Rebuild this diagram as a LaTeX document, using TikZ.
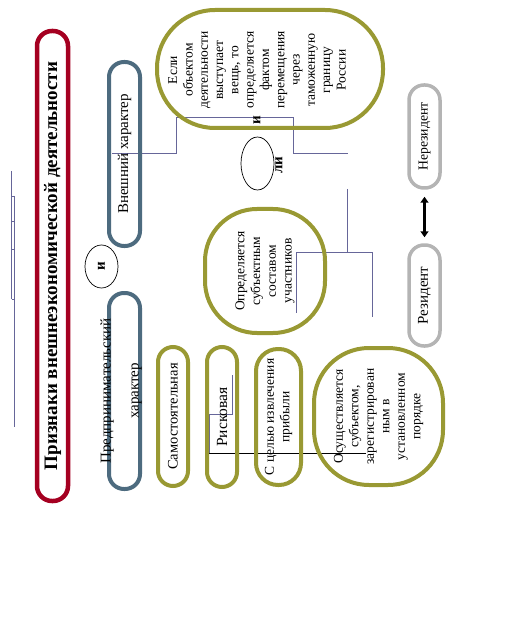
\documentclass[tikz,border=0pt]{standalone}
\usepackage{fontspec}
\setmainfont{Liberation Serif}
\usetikzlibrary{shapes.geometric,arrows.meta,backgrounds}
\definecolor{titred}{HTML}{A50021}
\definecolor{slate}{HTML}{4D6B7F}
\definecolor{olivec}{HTML}{999933}
\definecolor{lgrey}{HTML}{B4B4B4}
\definecolor{connc}{HTML}{666699}
\begin{document}
\begin{tikzpicture}[x=1pt,y=-1pt,
  pill/.style={draw, rotate=90, inner sep=0pt, align=center, line width=4pt},
  slatebox/.style={pill, draw=slate, font=\fontsize{15}{18}\selectfont},
  olivebox/.style={pill, draw=olivec, font=\fontsize{13.5}{15.5}\selectfont},
  greybox/.style={pill, draw=lgrey, line width=3.5pt, font=\fontsize{14}{17}\selectfont},
  smallov/.style={draw, ellipse, rotate=90, inner sep=0pt, line width=0.7pt},
  boldlbl/.style={rotate=90, inner sep=0pt, font=\bfseries\fontsize{15}{17}\selectfont},
  txt/.style={rotate=90, inner sep=0pt, align=center, font=\fontsize{13.5}{15.3}\selectfont},
  connl/.style={draw=connc, line width=0.8pt},
  dblarrow/.style={line width=3pt, {Triangle[length=6pt,width=8pt]}-{Triangle[length=6pt,width=8pt]}}
]
\path[use as bounding box] (0,0) rectangle (516,620);

% title
\node[pill, draw=titred, line width=4.5pt, minimum width=470pt, minimum height=31pt,
      rounded corners=15pt, font=\bfseries\fontsize{19}{22}\selectfont] (title) at (52.5,266)
      {Признаки внешнеэкономической деятельности};

% slate boxes
\node[slatebox, minimum width=184pt, minimum height=31pt, rounded corners=15pt] (vnesh) at (124.5,154) {Внешний характер};
\node[slatebox, minimum width=196pt, minimum height=31pt, rounded corners=15pt] (pred) at (124.5,391) {};
\node[txt, font=\fontsize{15}{18}\selectfont] (predtxt) at (121,391) {Предпринимательский\\[10pt]характер};
\node[smallov, minimum width=43pt, minimum height=33pt] (iov) at (101.5,266.5) {};
\node[boldlbl] (itxt) at (iov) {и};

% olive boxes
\node[olivebox, minimum width=139pt, minimum height=30pt, rounded corners=15pt, font=\fontsize{14.5}{17}\selectfont] (samo) at (173,416.5) {Самостоятельная};
\node[olivebox, minimum width=140pt, minimum height=30pt, rounded corners=15pt, font=\fontsize{15.5}{18}\selectfont] (risk) at (222,417) {Рисковая};
\node[olivebox, minimum width=136pt, minimum height=45pt, rounded corners=22pt] (celyu) at (278.5,417) {С целью извлечения\\прибыли};
\node[olivebox, minimum width=137pt, minimum height=129pt, rounded corners=55pt] (osush) at (378.5,416.5)
  {Осуществляется\\субъектом,\\зарегистрирован\\ным в\\установленном\\порядке};
\node[olivebox, minimum width=124pt, minimum height=120pt, rounded corners=52pt, font=\fontsize{13.5}{15.7}\selectfont] (opred) at (265,271)
  {Определяется\\субъектным\\составом\\участников};
\node[draw=olivec, line width=4pt, inner sep=0pt, minimum width=226pt, minimum height=118pt, rounded corners=58pt] (big) at (270,69) {};
\node[txt] (bigtxt) at (257,70) {Если\\объектом\\деятельности\\выступает\\вещь, то\\определяется\\фактом\\перемещения\\через\\таможенную\\границу\\России};

% or
\node[smallov, minimum width=53pt, minimum height=33pt] (liov) at (257.5,163.5) {};
\node[boldlbl] (i2) at (257,120) {и};
\node[boldlbl] (li) at (279,165) {ли};

% grey boxes
\node[greybox, minimum width=103pt, minimum height=31pt, rounded corners=15pt, font=\fontsize{13.7}{16}\selectfont] (neres) at (424.5,136.5) {Нерезидент};
\node[greybox, minimum width=101pt, minimum height=31pt, rounded corners=15pt, font=\fontsize{15}{18}\selectfont] (rez) at (424.5,295.5) {Резидент};
\draw[dblarrow, shorten <=6pt, shorten >=7pt] (rez.east) -- (neres.west);

% connectors
\begin{scope}[on background layer]
  \coordinate (a1) at (112,153);
  \coordinate (a2) at (176,117);
  \coordinate (a3) at (293,153);
  \coordinate (a4) at (348,153);
  \draw[connl] (a1) -| (a2) -| (a3) -- (a4);
  \coordinate (b1) at (347,189);
  \coordinate (bj) at (347,252);
  \coordinate (b2) at (296,313);
  \coordinate (b3) at (372,317);
  \draw[connl] (b1) -- (bj) -| (b2);
  \draw[connl] (bj) -| (b3);
  \coordinate (r1) at (232,375);
  \coordinate (r2) at (209,414);
  \coordinate (r3) at (209,453);
  \coordinate (r4) at (366,453);
  \draw[connl] (r1) |- (r2) -- (r3);
  \draw[line width=0.8pt] (r3) -- (r4);
  \coordinate (l1) at (11.7,171);
  \coordinate (l2) at (11.7,299);
  \coordinate (l3) at (14.3,196);
  \coordinate (l4) at (14.3,427);
  \draw[connl] (l1) -- (l2);
  \draw[connl] (l3) -- (l4);
  \foreach \yy in {196,221,249,299} \draw[connl] (11.7,\yy) -- (14.3,\yy);
\end{scope}
\end{tikzpicture}
\end{document}
